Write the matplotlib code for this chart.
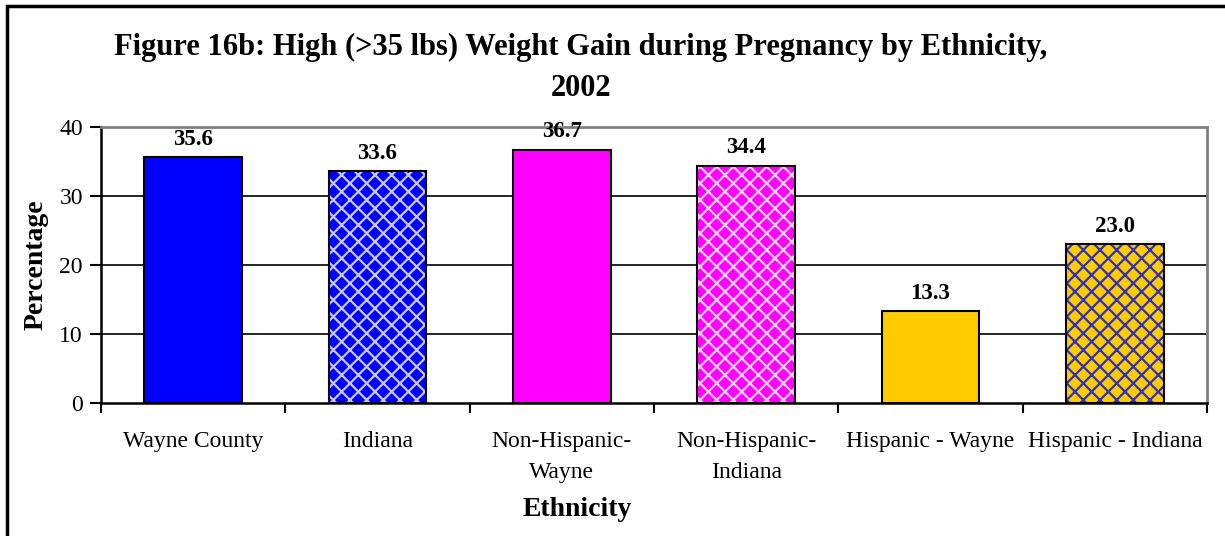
import matplotlib
matplotlib.use("Agg")
import matplotlib.pyplot as plt
from matplotlib.patches import Rectangle

categories = ["Wayne County", "Indiana", "Non-Hispanic-\nWayne", "Non-Hispanic-\nIndiana",
              "Hispanic - Wayne", "Hispanic - Indiana"]
values = [35.6, 33.6, 36.7, 34.4, 13.3, 23.0]
face_colors = ["#0000FF", "#0000FF", "#FF00FF", "#FF00FF", "#FFCC00", "#FFCC00"]
hatch_colors = [None, "#C8C8FF", None, "#FFD0FF", None, "#3030C0"]
y_ticks = [0, 10, 20, 30, 40]

plt.rcParams["font.family"] = ["Liberation Serif", "DejaVu Serif"]
plt.rcParams["hatch.linewidth"] = 1.6

fig = plt.figure(figsize=(12.25, 5.36), dpi=100)
W, H = 1225, 536
ax = fig.add_axes([101 / W, 1 - 403 / H, (1207 - 101) / W, (403 - 127) / H])

# outer chart frame
fig.patches.append(Rectangle((7 / W, -0.1), 1.2, 1 - 6 / H + 0.1, transform=fig.transFigure,
                             fill=False, edgecolor="black", linewidth=2.5))

x = list(range(len(categories)))
bw = 0.53
for xi, v, fc, hc in zip(x, values, face_colors, hatch_colors):
    if hc is None:
        ax.bar(xi, v, width=bw, color=fc, edgecolor="black", linewidth=1.5, zorder=3)
    else:
        ax.bar(xi, v, width=bw, color=fc, edgecolor=hc, hatch="xx", linewidth=0, zorder=3)
        ax.bar(xi, v, width=bw, fill=False, edgecolor="black", linewidth=1.5, zorder=4)
    ax.text(xi, v + 1.1, f"{v:.1f}", ha="center", va="bottom", fontsize=16.5,
            fontweight="bold", zorder=5)

ax.set_xlim(-0.5, len(categories) - 0.5)
ax.set_ylim(0, 40)
ax.set_yticks(y_ticks)
ax.tick_params(axis="y", labelsize=17, length=8, width=1.5, direction="out", pad=5)
ax.set_xticks([i - 0.5 for i in range(len(categories) + 1)], minor=False)
ax.set_xticklabels([])
ax.tick_params(axis="x", length=7, width=1.5, direction="out")
for xi, lab in zip(x, categories):
    ax.text(xi, -4.1, lab, ha="center", va="top", fontsize=17, linespacing=1.6,
            transform=ax.transData)

for yv in y_ticks[1:-1]:
    ax.axhline(yv, color="black", linewidth=1.2, zorder=1)

ax.spines["left"].set_linewidth(1.8)
ax.spines["bottom"].set_linewidth(1.8)
ax.spines["top"].set_color("#808080")
ax.spines["right"].set_color("#808080")
ax.spines["top"].set_linewidth(2)
ax.spines["right"].set_linewidth(2)

ax.set_ylabel("Percentage", fontsize=20, fontweight="bold", labelpad=8)
fig.text(577 / W, 1 - 509 / H, "Ethnicity", ha="center", va="center", fontsize=20,
         fontweight="bold")
fig.text(581 / W, 1 - 47 / H, "Figure 16b: High (>35 lbs) Weight Gain during Pregnancy by Ethnicity,",
         ha="center", va="center", fontsize=22, fontweight="bold")
fig.text(581 / W, 1 - 88 / H, "2002", ha="center", va="center", fontsize=22,
         fontweight="bold")

fig.savefig("out.png", dpi=100)
